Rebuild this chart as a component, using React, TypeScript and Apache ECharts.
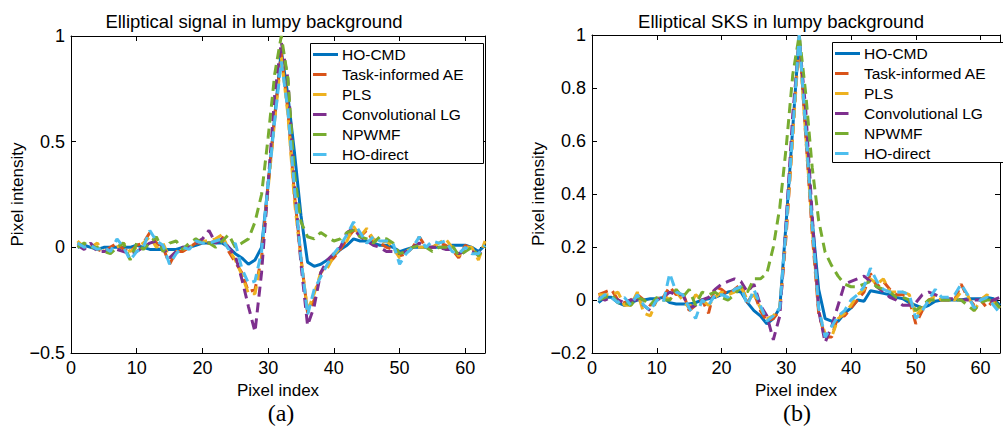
import React, { useEffect, useRef } from "react";
import * as echarts from "echarts";

const pixelIndex = [
  1, 2, 3, 4, 5, 6, 7, 8, 9, 10, 11, 12, 13, 14, 15, 16, 17, 18, 19, 20,
  21, 22, 23, 24, 25, 26, 27, 28, 29, 30, 31, 32, 33, 34, 35, 36, 37, 38, 39, 40,
  41, 42, 43, 44, 45, 46, 47, 48, 49, 50, 51, 52, 53, 54, 55, 56, 57, 58, 59, 60,
  61, 62, 63,
];

const seriesNames = ["HO-CMD", "Task-informed AE", "PLS", "Convolutional LG", "NPWMF", "HO-direct"];
const seriesColors = ["#0072BD", "#D95319", "#EDB120", "#7E2F8E", "#77AC30", "#4DBEEE"];

const titles = ["Elliptical signal in lumpy background", "Elliptical SKS in lumpy background"];
const panelLabels = ["(a)", "(b)"];

// ---------- Panel (a): Elliptical signal in lumpy background ----------
const aHoCmd = [
  0.0, 0.01, 0.0, -0.01, 0.0, 0.0, 0.0, 0.0, 0.0, 0.01, 0.0, -0.01, -0.01, -0.01, -0.01, -0.01, 0.0, 0.0, 0.01, 0.02,
  0.02, 0.02, 0.02, 0.0, -0.03, -0.05, -0.08, -0.06, 0.0, 0.3, 0.62, 0.93, 0.72, 0.45, 0.15, -0.07, -0.09, -0.08, -0.06, -0.04,
  -0.01, 0.01, 0.04, 0.03, 0.03, 0.02, 0.01, 0.01, 0.0, -0.02, -0.01, 0.0, 0.0, 0.0, 0.0, 0.0, 0.0, 0.01, 0.01, 0.01,
  0.0, -0.02, 0.01,
];
const aTaskAE = [
  0.02, 0.0, 0.01, -0.01, -0.02, 0.0, 0.02, -0.01, -0.02, 0.01, 0.02, 0.07, 0.02, 0.0, -0.08, -0.02, -0.02, 0.0, 0.02, 0.02,
  0.02, 0.03, 0.05, -0.02, -0.07, -0.12, -0.21, -0.2, -0.05, 0.3, 0.62, 0.92, 0.65, 0.25, -0.05, -0.31, -0.25, -0.12, -0.08, -0.05,
  -0.01, 0.04, 0.08, 0.05, 0.08, 0.03, 0.02, 0.0, -0.01, -0.04, -0.03, 0.0, 0.05, 0.0, 0.0, 0.02, 0.01, -0.01, -0.05, 0.01,
  -0.01, -0.04, 0.0,
];
const aPLS = [
  0.03, 0.0, 0.0, 0.02, -0.02, -0.01, 0.0, 0.02, -0.02, 0.0, 0.02, 0.05, 0.0, 0.02, -0.05, -0.02, -0.01, 0.0, 0.02, 0.03,
  0.03, 0.04, 0.06, -0.01, -0.06, -0.13, -0.22, -0.22, -0.06, 0.28, 0.6, 0.9, 0.63, 0.22, -0.06, -0.3, -0.22, -0.12, -0.1, -0.04,
  0.0, 0.03, 0.1, 0.05, 0.09, 0.04, 0.02, 0.03, 0.0, -0.05, -0.02, 0.0, 0.0, 0.0, 0.0, 0.02, 0.04, 0.0, -0.04, 0.0,
  0.0, -0.06, 0.03,
];
const aConvLG = [
  0.01, -0.01, 0.02, -0.02, -0.02, -0.01, -0.01, -0.02, -0.03, -0.02, 0.0, 0.02, 0.03, 0.0, -0.05, -0.02, 0.0, 0.0, 0.02, 0.04,
  0.08, 0.02, 0.04, 0.0, -0.04, -0.15, -0.28, -0.4, -0.12, 0.3, 0.72, 0.97, 0.8, 0.3, -0.08, -0.37, -0.28, -0.12, -0.06, -0.03,
  0.0, 0.07, 0.09, 0.05, 0.03, 0.01, 0.0, -0.02, -0.02, -0.03, -0.02, 0.0, 0.02, 0.0, 0.0, 0.0, -0.01, -0.01, -0.03, -0.02,
  -0.02, -0.03, 0.0,
];
const aNPWMF = [
  0.0, 0.02, 0.0, 0.0, -0.02, -0.03, 0.0, 0.02, -0.06, 0.02, -0.01, 0.02, 0.05, -0.02, 0.02, 0.03, -0.01, 0.02, 0.04, 0.02,
  0.02, 0.0, 0.03, 0.06, 0.0, 0.02, 0.04, 0.12, 0.25, 0.52, 0.82, 1.0, 0.8, 0.35, 0.12, 0.05, 0.04, 0.07, 0.05, 0.03,
  0.04, 0.07, 0.08, 0.05, 0.04, 0.02, 0.05, 0.04, 0.02, -0.03, -0.02, 0.0, 0.01, 0.0, -0.02, 0.0, 0.0, 0.01, -0.04, -0.02,
  0.0, -0.04, 0.0,
];
const aHoDirect = [
  0.02, 0.0, 0.01, -0.01, 0.0, -0.02, 0.04, 0.0, -0.06, -0.02, 0.0, 0.08, 0.03, 0.01, -0.08, -0.03, 0.0, -0.01, 0.03, 0.02,
  0.02, 0.03, 0.04, -0.01, 0.02, -0.1, -0.17, -0.16, -0.02, 0.3, 0.6, 0.88, 0.65, 0.28, -0.05, -0.32, -0.2, -0.14, -0.08, -0.03,
  0.01, 0.06, 0.12, 0.07, 0.02, 0.05, 0.03, 0.03, 0.02, -0.08, -0.03, 0.0, 0.05, 0.0, 0.03, 0.02, 0.03, -0.02, -0.03, 0.0,
  -0.03, -0.03, 0.01,
];

// ---------- Panel (b): Elliptical SKS in lumpy background ----------
const bHoCmd = [
  -0.01, 0.01, 0.01, -0.01, -0.02, -0.01, 0.0, 0.0, 0.005, 0.005, 0.01, -0.01, -0.015, -0.015, -0.015, -0.01, 0.0, 0.005, 0.01, 0.02,
  0.03, 0.035, 0.03, -0.01, -0.04, -0.06, -0.09, -0.07, -0.03, 0.3, 0.65, 1.0, 0.65, 0.3, 0.04, -0.07, -0.08, -0.08, -0.05, -0.03,
  0.0, -0.005, 0.035, 0.03, 0.025, 0.02, 0.01, 0.005, -0.01, -0.02, -0.03, -0.02, -0.005, 0.0, 0.0, 0.0, 0.0, 0.005, 0.005, 0.005,
  0.01, 0.005, -0.02,
];
const bTaskAE = [
  0.02, 0.03, 0.04, 0.0, -0.01, 0.0, 0.02, 0.0, -0.02, 0.0, 0.01, 0.05, 0.02, 0.03, -0.04, -0.02, 0.0, -0.05, 0.05, 0.04,
  0.02, 0.04, 0.06, -0.01, 0.03, -0.04, -0.08, -0.07, -0.04, 0.25, 0.62, 1.0, 0.62, 0.25, -0.05, -0.14, -0.14, -0.06, -0.06, -0.03,
  0.0, 0.03, 0.1, 0.05, 0.07, 0.04, 0.02, 0.02, 0.0, -0.09, -0.04, 0.0, 0.01, 0.0, 0.0, 0.0, 0.06, 0.01, -0.02, 0.0,
  -0.03, 0.0, -0.03,
];
const bPLS = [
  0.02, 0.02, 0.02, 0.03, -0.02, -0.02, 0.03, -0.05, -0.06, 0.0, 0.02, 0.0, 0.03, 0.0, -0.03, 0.02, 0.0, -0.02, 0.01, 0.03,
  0.02, 0.03, 0.05, 0.0, 0.02, -0.03, -0.07, -0.06, -0.03, 0.27, 0.62, 0.98, 0.62, 0.27, -0.04, -0.13, -0.14, -0.07, -0.05, -0.02,
  0.02, 0.04, 0.08, 0.06, 0.08, 0.03, 0.03, 0.03, 0.02, -0.06, -0.03, -0.01, 0.02, 0.0, 0.01, 0.0, 0.03, 0.02, -0.04, 0.0,
  0.02, -0.01, -0.04,
];
const bConvLG = [
  0.01, 0.0, 0.01, 0.0, -0.01, 0.0, 0.0, -0.02, -0.04, 0.0, 0.01, 0.03, 0.02, 0.02, -0.03, -0.02, 0.0, 0.01, 0.04, 0.06,
  0.07, 0.08, 0.07, 0.03, 0.06, -0.02, -0.06, -0.15, -0.06, 0.3, 0.7, 0.98, 0.72, 0.32, -0.04, -0.16, -0.1, -0.02, 0.06, 0.07,
  0.08, 0.09, 0.07, 0.05, 0.03, 0.01, 0.0, -0.02, -0.02, -0.01, 0.02, 0.03, 0.02, 0.01, 0.005, 0.005, 0.0, 0.0, 0.0, 0.0,
  -0.01, 0.0, 0.01,
];
const bNPWMF = [
  0.0, 0.01, 0.02, -0.01, -0.01, -0.02, 0.01, 0.0, -0.02, 0.01, 0.0, 0.0, 0.04, 0.01, 0.04, -0.02, 0.03, 0.02, 0.03, 0.01,
  0.0, 0.02, 0.05, 0.03, 0.08, 0.08, 0.1, 0.2, 0.35, 0.58, 0.85, 1.0, 0.78, 0.5, 0.3, 0.18, 0.13, 0.09, 0.06, 0.05,
  0.05, 0.06, 0.07, 0.05, 0.04, 0.03, 0.01, 0.01, 0.0, -0.04, -0.02, 0.0, 0.0, 0.0, 0.0, 0.0, 0.0, -0.02, -0.04, -0.01,
  0.0, 0.0, -0.03,
];
const bHoDirect = [
  0.0, 0.02, 0.01, -0.01, 0.01, -0.02, 0.02, -0.02, -0.04, 0.0, -0.01, 0.1, 0.03, 0.02, -0.03, -0.07, 0.0, -0.02, 0.02, 0.02,
  0.01, 0.04, 0.05, -0.02, 0.04, -0.02, -0.08, -0.06, -0.03, 0.28, 0.64, 1.0, 0.64, 0.28, -0.03, -0.14, -0.1, -0.06, -0.04, 0.0,
  0.02, 0.05, 0.12, 0.07, 0.04, 0.03, 0.03, 0.03, 0.02, -0.07, -0.04, 0.0, 0.04, 0.01, 0.01, 0.02, 0.06, 0.02, -0.03, 0.0,
  0.01, -0.02, -0.05,
];

const panelA = [aHoCmd, aTaskAE, aPLS, aConvLG, aNPWMF, aHoDirect];
const panelB = [bHoCmd, bTaskAE, bPLS, bConvLG, bNPWMF, bHoDirect];

const xTicks = [0, 10, 20, 30, 40, 50, 60];
const yTicksA = [-0.5, 0, 0.5, 1];
const yTicksB = [-0.2, 0, 0.2, 0.4, 0.6, 0.8, 1];

const FONT = "'Liberation Sans', Arial, Helvetica, sans-serif";
const SERIF = "'Liberation Serif', 'Times New Roman', serif";

function fmtY(v: number): string {
  const r = parseFloat(v.toFixed(2));
  if (r < 0) return "\u2212" + String(Math.abs(r));
  return String(r);
}

function legendGraphic(left: number, top: number): any[] {
  const els: any[] = [];
  els.push({
    type: "rect",
    z: 100,
    shape: { x: left + 0.5, y: top + 0.5, width: 173, height: 120 },
    style: { fill: "#fff", stroke: "#000", lineWidth: 1 },
  });
  seriesNames.forEach((name, i) => {
    const cy = top + 11.5 + i * 20;
    const solid = i === 0;
    els.push({
      type: "line",
      z: 101,
      shape: { x1: left + 3, y1: cy, x2: solid ? left + 28 : left + 16.5, y2: cy },
      style: { stroke: seriesColors[i], lineWidth: 3, lineCap: "butt" },
    });
    els.push({
      type: "text",
      z: 101,
      x: left + 32,
      y: cy,
      style: {
        text: name,
        fill: "#000",
        font: `15.5px ${FONT}`,
        textAlign: "left",
        textVerticalAlign: "middle",
      },
    });
  });
  return els;
}

export default function App() {
  const ref = useRef<HTMLDivElement>(null);

  useEffect(() => {
    if (!ref.current) return;
    const chart = echarts.init(ref.current, undefined, { renderer: "svg" });

    const grids = [
      { left: 71, top: 36, width: 414, height: 317 },
      { left: 592, top: 35, width: 413, height: 318 },
    ];
    const yRanges = [
      { min: yTicksA[0], max: yTicksA[yTicksA.length - 1], interval: 0.5 },
      { min: yTicksB[0], max: yTicksB[yTicksB.length - 1], interval: 0.2 },
    ];
    const xMin = xTicks[0];
    const xMax = 63;

    const axisLineStyle = { color: "#000", width: 1 };
    const xAxes: any[] = [];
    const yAxes: any[] = [];
    grids.forEach((_, gi) => {
      xAxes.push({
        type: "value",
        gridIndex: gi,
        position: "bottom",
        min: xMin,
        max: xMax,
        interval: 10,
        axisLine: { show: true, onZero: false, lineStyle: axisLineStyle },
        axisTick: { show: true, inside: true, length: 5, lineStyle: axisLineStyle },
        axisLabel: {
          show: true,
          margin: 6,
          color: "#000",
          fontSize: 18,
          fontFamily: FONT,
          formatter: (v: number) => (xTicks.indexOf(v) >= 0 ? String(v) : ""),
        },
        splitLine: { show: false },
        name: "Pixel index",
        nameLocation: "middle",
        nameGap: 27,
        nameTextStyle: { color: "#000", fontSize: 17, fontFamily: FONT },
      });
      xAxes.push({
        type: "value",
        gridIndex: gi,
        position: "top",
        min: xMin,
        max: xMax,
        interval: 10,
        axisLine: { show: true, onZero: false, lineStyle: axisLineStyle },
        axisTick: { show: true, inside: true, length: 5, lineStyle: axisLineStyle },
        axisLabel: { show: false },
        splitLine: { show: false },
      });
      const yr = yRanges[gi];
      yAxes.push({
        type: "value",
        gridIndex: gi,
        position: "left",
        min: yr.min,
        max: yr.max,
        interval: yr.interval,
        axisLine: { show: true, onZero: false, lineStyle: axisLineStyle },
        axisTick: { show: true, inside: true, length: 5, lineStyle: axisLineStyle },
        axisLabel: {
          show: true,
          margin: 6,
          color: "#000",
          fontSize: 18,
          fontFamily: FONT,
          formatter: fmtY,
        },
        splitLine: { show: false },
        name: "Pixel intensity",
        nameLocation: "middle",
        nameGap: gi === 0 ? 44 : 43,
        nameTextStyle: { color: "#000", fontSize: 17, fontFamily: FONT },
      });
      yAxes.push({
        type: "value",
        gridIndex: gi,
        position: "right",
        min: yr.min,
        max: yr.max,
        interval: yr.interval,
        axisLine: { show: true, onZero: false, lineStyle: axisLineStyle },
        axisTick: { show: true, inside: true, length: 5, lineStyle: axisLineStyle },
        axisLabel: { show: false },
        splitLine: { show: false },
      });
    });

    const series: any[] = [];
    [panelA, panelB].forEach((panel, pi) => {
      panel.forEach((vals, si) => {
        series.push({
          type: "line",
          name: seriesNames[si],
          xAxisIndex: pi * 2,
          yAxisIndex: pi * 2,
          data: pixelIndex.map((x, k) => [x, vals[k]]),
          symbol: "none",
          showSymbol: false,
          clip: true,
          z: 2 + si,
          itemStyle: { color: seriesColors[si] },
          lineStyle: {
            color: seriesColors[si],
            width: 3,
            type: si === 0 ? "solid" : [10, 6],
            cap: "butt",
          },
        });
      });
    });

    const textEl = (text: string, x: number, y: number, font: string) => ({
      type: "text",
      x,
      y,
      z: 100,
      style: { text, fill: "#000", font, textAlign: "center", textVerticalAlign: "middle" },
    });

    chart.setOption({
      animation: false,
      backgroundColor: "#fff",
      grid: grids.map((g) => ({ ...g, show: false, containLabel: false })),
      xAxis: xAxes,
      yAxis: yAxes,
      series,
      graphic: [
        textEl(titles[0], 254, 21, `18.5px ${FONT}`),
        textEl(titles[1], 781, 21, `18.5px ${FONT}`),
        textEl(panelLabels[0], 281, 413, `24px ${SERIF}`),
        textEl(panelLabels[1], 797, 413, `24px ${SERIF}`),
        ...legendGraphic(310, 43),
        ...legendGraphic(832, 42),
      ],
    });

    return () => {
      chart.dispose();
    };
  }, []);

  return (
    <div
      ref={ref}
      style={{ position: "absolute", left: 0, top: 0, width: 1003, height: 429, background: "#fff" }}
    />
  );
}
